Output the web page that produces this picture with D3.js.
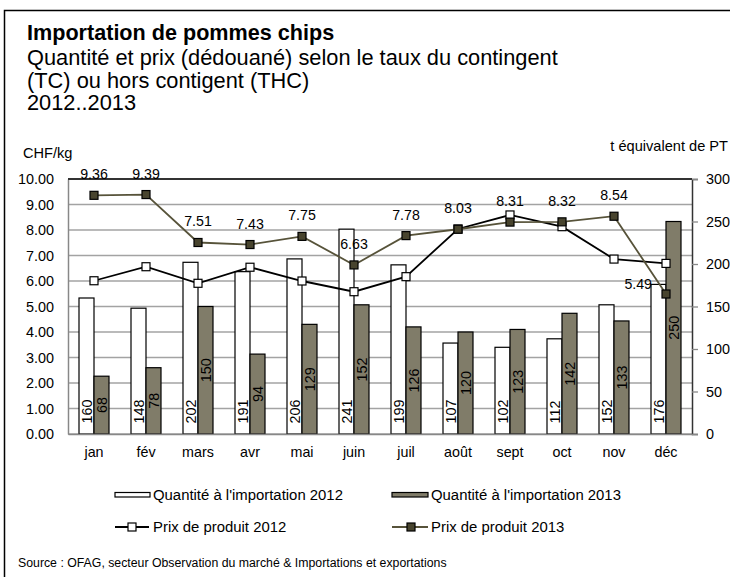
<!DOCTYPE html>
<html><head><meta charset="utf-8">
<script src="https://cdn.jsdelivr.net/npm/d3@7"></script>
<style>
body{margin:0;background:#fff;}
svg{font-family:"Liberation Sans",Arial,sans-serif;display:block;}
</style></head>
<body><svg id="c" width="730" height="577"></svg>
<script>
const months = ["jan","fév","mars","avr","mai","juin","juil","août","sept","oct","nov","déc"];
const qty2012 = [160,148,202,191,206,241,199,107,102,112,152,176];
const qty2013 = [68,78,150,94,129,152,126,120,123,142,133,250];
const price2012 = [6.01,6.56,5.91,6.54,6.00,5.58,6.17,8.04,8.59,8.13,6.86,6.69];
const price2013 = [9.36,9.39,7.51,7.43,7.75,6.63,7.78,8.03,8.31,8.32,8.54,5.49];
const leftTicks = [0,1,2,3,4,5,6,7,8,9,10];
const rightTicks = [0,50,100,150,200,250,300];
const titleLines = ["Quantité et prix (dédouané) selon le taux du contingent","(TC) ou hors contigent (THC)","2012..2013"];

const svg = d3.select("#c");
const L=68,R=692,T=179,B=434;
const x = d3.scaleBand().domain(months).range([L,R]).paddingInner(0).paddingOuter(0);
const yL = d3.scaleLinear().domain([0,10]).range([B,T]);
const yR = d3.scaleLinear().domain([0,300]).range([B,T]);
const bw = 15;
const c13 = "#807c69", line13 = "#57533a", mark13 = "#48442e";
const FF = "Liberation Sans, Arial, sans-serif";

// outer frame
svg.append("rect").attr("x",4.5).attr("y",10.5).attr("width",800).attr("height",700)
  .attr("fill","none").attr("stroke","#000").attr("stroke-width",1.5);

// titles
svg.append("text").attr("x",27).attr("y",39.5).attr("font-size",21.6).attr("font-weight","bold").text("Importation de pommes chips");
titleLines.forEach((t,i)=>svg.append("text").attr("x",27).attr("y",65+i*22.6).attr("font-size",21.8).text(t));

// axis titles
svg.append("text").attr("x",23).attr("y",158).attr("font-size",14.6).text("CHF/kg");
svg.append("text").attr("x",728).attr("y",151).attr("font-size",14.6).attr("text-anchor","end").text("t équivalent de PT");

// gridlines
svg.append("g").selectAll("line").data(leftTicks).join("line")
  .attr("x1",L).attr("x2",R).attr("y1",d=>yL(d)).attr("y2",d=>yL(d))
  .attr("stroke","#a3a3a3").attr("stroke-width",1.3);

// left axis
const gl = svg.append("g").attr("transform",`translate(${L},0)`)
  .call(d3.axisLeft(yL).tickValues(leftTicks).tickFormat(d3.format(".2f")).tickSize(0).tickPadding(14));
gl.select(".domain").attr("stroke","#888").attr("stroke-width",1.5);
gl.selectAll("text").attr("font-size",14.4).attr("font-family",FF).attr("fill","#000");

// right axis
const gr = svg.append("g").attr("transform",`translate(${R},0)`)
  .call(d3.axisRight(yR).tickValues(rightTicks).tickSize(6).tickPadding(8));
gr.select(".domain").attr("stroke","#333").attr("stroke-width",1.5);
gr.selectAll(".tick line").attr("stroke","#888").attr("stroke-width",1.3);
gr.selectAll("text").attr("font-size",14.4).attr("font-family",FF).attr("fill","#000");

// top border
svg.append("line").attr("x1",L).attr("x2",R).attr("y1",T).attr("y2",T).attr("stroke","#333").attr("stroke-width",1.8);

// bars
const cx = m => x(m)+x.bandwidth()/2;
svg.append("g").selectAll("rect").data(months).join("rect")
  .attr("x",m=>cx(m)-bw).attr("width",bw)
  .attr("y",(m,i)=>yR(qty2012[i])).attr("height",(m,i)=>B-yR(qty2012[i]))
  .attr("fill","#fff").attr("stroke","#000").attr("stroke-width",1.2);
svg.append("g").selectAll("rect").data(months).join("rect")
  .attr("x",m=>cx(m)).attr("width",bw)
  .attr("y",(m,i)=>yR(qty2013[i])).attr("height",(m,i)=>B-yR(qty2013[i]))
  .attr("fill",c13).attr("stroke","#000").attr("stroke-width",1.2);

// bottom axis
const gb = svg.append("g").attr("transform",`translate(0,${B})`)
  .call(d3.axisBottom(x).tickSize(0).tickPadding(13));
gb.select(".domain").attr("stroke","#888").attr("stroke-width",1.5);
gb.selectAll("text").attr("font-size",14.3).attr("font-family",FF).attr("fill","#000");

// bar labels
svg.append("g").selectAll("text").data(months).join("text")
  .attr("transform",m=>`translate(${cx(m)-bw/2+5.2},${B-10.5}) rotate(-90)`)
  .attr("font-size",14.4).text((m,i)=>qty2012[i]);
svg.append("g").selectAll("text").data(months).join("text")
  .attr("transform",(m,i)=>`translate(${cx(m)+bw/2+5.2},${(B+yR(qty2013[i]))/2}) rotate(-90)`)
  .attr("font-size",14.4).attr("text-anchor","middle").text((m,i)=>qty2013[i]);

// lines
const line = d3.line().x(d=>cx(d.m)).y(d=>yL(d.v));
const d12 = months.map((m,i)=>({m,v:price2012[i]}));
const d13 = months.map((m,i)=>({m,v:price2013[i]}));
svg.append("path").datum(d12).attr("d",line).attr("fill","none").attr("stroke","#000").attr("stroke-width",1.8);
svg.append("g").selectAll("rect").data(d12).join("rect")
  .attr("x",d=>cx(d.m)-4).attr("y",d=>yL(d.v)-4).attr("width",8).attr("height",8)
  .attr("fill","#fff").attr("stroke","#000").attr("stroke-width",1.2);
svg.append("path").datum(d13).attr("d",line).attr("fill","none").attr("stroke",line13).attr("stroke-width",1.8);
svg.append("g").selectAll("rect").data(d13).join("rect")
  .attr("x",d=>cx(d.m)-4).attr("y",d=>yL(d.v)-4).attr("width",8).attr("height",8)
  .attr("fill",mark13).attr("stroke","#000").attr("stroke-width",1.2);

// price labels 2013
svg.append("g").selectAll("text").data(d13).join("text")
  .attr("x",(d,i)=> i===11 ? cx(d.m)-14 : cx(d.m))
  .attr("y",(d,i)=> i===11 ? yL(d.v)-5 : yL(d.v)-16)
  .attr("text-anchor",(d,i)=> i===11 ? "end" : "middle")
  .attr("font-size",14.2).text(d=>d.v.toFixed(2));

// legend
const lg = svg.append("g").attr("font-size",14.9);
lg.append("rect").attr("x",115).attr("y",492.5).attr("width",35).attr("height",4.5).attr("fill","#fff").attr("stroke","#000").attr("stroke-width",1.2);
lg.append("text").attr("x",153).attr("y",500).text("Quantité à l'importation 2012");
lg.append("rect").attr("x",392).attr("y",492.5).attr("width",36).attr("height",4.5).attr("fill",c13).attr("stroke","#000").attr("stroke-width",1.2);
lg.append("text").attr("x",431).attr("y",500).text("Quantité à l'importation 2013");
lg.append("line").attr("x1",115).attr("x2",149).attr("y1",527).attr("y2",527).attr("stroke","#000").attr("stroke-width",1.8);
lg.append("rect").attr("x",128).attr("y",523).attr("width",8).attr("height",8).attr("fill","#fff").attr("stroke","#000").attr("stroke-width",1.2);
lg.append("text").attr("x",153).attr("y",532).text("Prix de produit 2012");
lg.append("line").attr("x1",392).attr("x2",428).attr("y1",527).attr("y2",527).attr("stroke",line13).attr("stroke-width",1.8);
lg.append("rect").attr("x",407).attr("y",523).attr("width",8).attr("height",8).attr("fill",mark13).attr("stroke","#000").attr("stroke-width",1.2);
lg.append("text").attr("x",431).attr("y",532).text("Prix de produit 2013");

// source
svg.append("text").attr("x",18).attr("y",567).attr("font-size",12.3).text("Source : OFAG, secteur Observation du marché & Importations et exportations");
</script></body></html>
